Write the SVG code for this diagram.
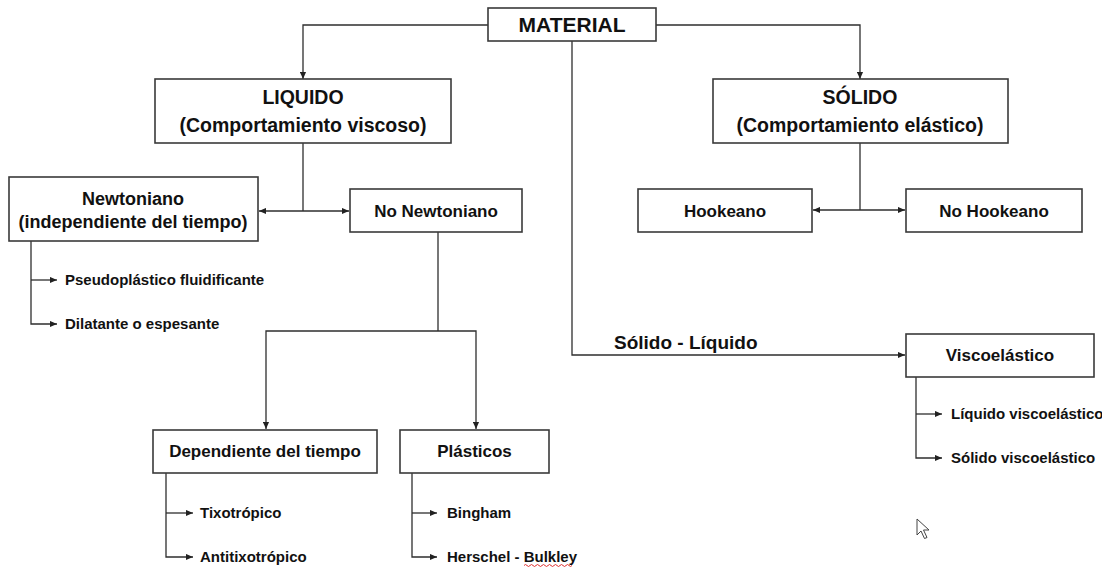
<svg xmlns="http://www.w3.org/2000/svg" width="1102" height="568" viewBox="0 0 1102 568">
  <defs>
    <marker id="arrow" viewBox="0 0 8 8" refX="8" refY="4" markerWidth="7" markerHeight="7" markerUnits="userSpaceOnUse" orient="auto">
      <path d="M0,0.5 L8,4 L0,7.5 z" fill="#222"/>
    </marker>
    <style>
      .box { fill: #fff; stroke: #3a3a3a; stroke-width: 1.6; }
      .line { fill: none; stroke: #2e2e2e; stroke-width: 1.3; }
      .arr { marker-end: url(#arrow); }
      text { font-family: "Liberation Sans", Arial, sans-serif; font-weight: bold; fill: #111; }
      .title { font-size: 21px; text-anchor: middle; }
      .big { font-size: 19.5px; text-anchor: middle; }
      .mid { font-size: 18px; text-anchor: middle; }
      .node { font-size: 17px; text-anchor: middle; }
      .item { font-size: 15px; }
      .branch { font-size: 19px; }
    </style>
  </defs>
  <rect width="1102" height="568" fill="#fff"/>

  <!-- connectors -->
  <g id="connectors">
    <path class="line arr" d="M488,25 H303 V79"/>
    <path class="line arr" d="M656,25 H860 V79"/>
    <path class="line arr" d="M572,41 V355 H905"/>

    <path class="line" d="M303,143 V211"/>
    <path class="line arr" d="M303,211 H259"/>
    <path class="line arr" d="M303,211 H349"/>

    <path class="line" d="M860,143 V210"/>
    <path class="line arr" d="M860,210 H813"/>
    <path class="line arr" d="M860,210 H905"/>

    <path class="line" d="M31,241 V280"/>
    <path class="line arr" d="M31,280 H57"/>
    <path class="line arr" d="M31,280 V324 H57"/>

    <path class="line" d="M438,232 V331"/>
    <path class="line arr" d="M438,331 H266 V429"/>
    <path class="line arr" d="M438,331 H476 V429"/>

    <path class="line" d="M166,473 V513"/>
    <path class="line arr" d="M166,513 H193"/>
    <path class="line arr" d="M166,513 V557 H193"/>

    <path class="line" d="M412,473 V513"/>
    <path class="line arr" d="M412,513 H437"/>
    <path class="line arr" d="M412,513 V557 H437"/>

    <path class="line" d="M916,377 V414"/>
    <path class="line arr" d="M916,414 H942"/>
    <path class="line arr" d="M916,414 V458 H942"/>
  </g>

  <text class="branch" x="614" y="349">Sólido - Líquido</text>

  <!-- nodes -->
  <g id="material">
    <rect class="box" x="488" y="8" width="168" height="33"/>
    <text class="title" x="572" y="32">MATERIAL</text>
  </g>
  <g id="liquido">
    <rect class="box" x="155" y="79" width="296" height="64"/>
    <text class="big" x="303" y="104">LIQUIDO</text>
    <text class="big" x="303" y="132">(Comportamiento viscoso)</text>
  </g>
  <g id="solido">
    <rect class="box" x="713" y="79" width="295" height="64"/>
    <text class="big" x="860" y="104">SÓLIDO</text>
    <text class="big" x="860" y="132">(Comportamiento elástico)</text>
  </g>
  <g id="newtoniano">
    <rect class="box" x="9" y="177" width="249" height="64"/>
    <text class="mid" x="133" y="205">Newtoniano</text>
    <text class="mid" x="133" y="228">(independiente del tiempo)</text>
  </g>
  <g id="no-newtoniano">
    <rect class="box" x="350" y="189" width="172" height="43"/>
    <text class="node" x="436" y="217">No Newtoniano</text>
  </g>
  <g id="hookeano">
    <rect class="box" x="638" y="189" width="174" height="43"/>
    <text class="node" x="725" y="217">Hookeano</text>
  </g>
  <g id="no-hookeano">
    <rect class="box" x="906" y="189" width="176" height="43"/>
    <text class="node" x="994" y="217">No Hookeano</text>
  </g>
  <g id="dependiente">
    <rect class="box" x="153" y="430" width="224" height="43"/>
    <text class="node" x="265" y="457">Dependiente del tiempo</text>
  </g>
  <g id="plasticos">
    <rect class="box" x="400" y="430" width="149" height="43"/>
    <text class="node" x="474.5" y="457">Plásticos</text>
  </g>
  <g id="viscoelastico">
    <rect class="box" x="906" y="334" width="188" height="43"/>
    <text class="node" x="1000" y="361">Viscoelástico</text>
  </g>

  <!-- leaf items -->
  <g id="pseudoplastico"><text class="item" x="65" y="285">Pseudoplástico fluidificante</text></g>
  <g id="dilatante"><text class="item" x="65" y="329">Dilatante o espesante</text></g>
  <g id="tixotropico"><text class="item" x="200" y="518">Tixotrópico</text></g>
  <g id="antitixotropico"><text class="item" x="200" y="562">Antitixotrópico</text></g>
  <g id="bingham"><text class="item" x="447" y="518">Bingham</text></g>
  <g id="herschel"><text class="item" x="447" y="562">Herschel - Bulkley</text></g>
  <g id="liquido-visco"><text class="item" x="951" y="419">Líquido viscoelástico</text></g>
  <g id="solido-visco"><text class="item" x="951" y="463">Sólido viscoelástico</text></g>

  <!-- spell-check underline -->
  <path d="M524,565.5 q1.5,-2 3,0 t3,0 t3,0 t3,0 t3,0 t3,0 t3,0 t3,0 t3,0 t3,0 t3,0 t3,0 t3,0 t3,0 t3,0 t3,0" fill="none" stroke="#e03030" stroke-width="1"/>

  <!-- mouse pointer -->
  <path d="M917,519 L917,535 L921,531 L924.5,538.5 L927,537.5 L923.5,530 L929,530 Z" fill="#fff" stroke="#444" stroke-width="1" stroke-linejoin="round"/>
</svg>
